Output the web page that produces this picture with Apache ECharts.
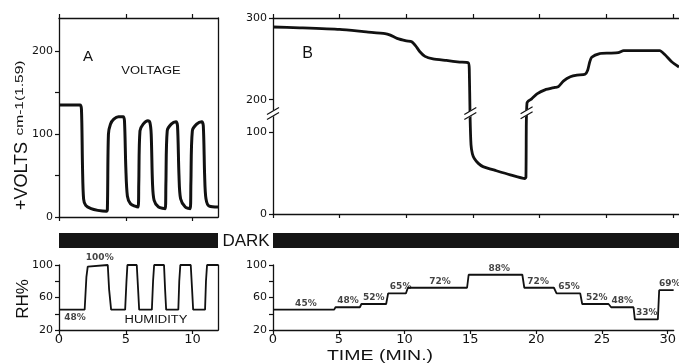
<!DOCTYPE html>
<html><head><meta charset="utf-8">
<script src="https://cdn.jsdelivr.net/npm/echarts@6/dist/echarts.min.js"></script>
<style>html,body{margin:0;padding:0;background:#fff}#c{width:679px;height:363px}</style>
</head><body><div id="c"></div>
<script>
// ---------- DATA ----------
// Panel A voltage: time (min), volts cm-1
const voltA_t = [0,1.57,1.68,1.76,1.84,2.0,2.4,2.9,3.55,3.62,3.7,3.85,4.1,4.45,4.8,4.9,5.0,5.12,5.35,5.7,5.92,5.97,6.06,6.3,6.65,6.8,6.9,7.0,7.12,7.45,7.95,8.0,8.1,8.4,8.75,8.87,8.98,9.1,9.45,9.82,9.87,9.98,10.3,10.68,10.8,10.9,11.0,11.25,11.9];
const voltA_v = [135,135,130,60,22,14,10,8,7,9,100,112,118,121,121,116,60,25,16,13,12,40,104,112,116,114,100,40,20,12,10,40,104,112,115,110,50,22,12,10,40,104,112,115,110,50,22,13,12];
// Panel A humidity (RH %)
const rhA_t = [0,1.92,2.05,2.15,2.25,3.65,3.75,3.9,4.95,5.05,5.12,5.82,5.92,6.0,6.95,7.04,7.12,7.86,7.94,8.02,8.93,9.0,9.08,9.86,9.96,10.04,10.93,11.0,11.08,11.9];
const rhA_v = [45,45,85,98,100,100,70,45,45,80,100,100,70,45,45,80,100,100,70,45,45,80,100,100,70,45,45,80,100,100];
const rhA_labT = [1.2, 3.05];
const rhA_labV = [45, 100];
const rhA_labText = ['48%', '100%'];
// Panel B voltage
const voltB_t = [0,2,5,7,8.4,8.8,9.3,10,10.4,10.7,11.0,11.4,12,13,14,14.65,14.72,14.78,14.85,14.95,15.1,15.4,15.75,16.75,17.8,18.9,18.97,19.0,19.05,19.15,19.4,19.8,20.4,21.15,21.4,21.8,22.3,22.8,23.4,23.6,23.75,23.9,24.5,25.2,25.9,26.3,27.5,29.0,29.4,29.9,30.45];
const voltB_v = [289,288,286,283,281,279,275,272,271,266,259,253,250,248,246,245,238,150,85,74,68,62,58,53,48,43.5,45,130,190,196,201,207,212,215,216,223,228,230,231,236,246,252,256.5,257,257.5,260,260,260,255,246.5,240];
// Panel B humidity
const rhB_t = [0,4.65,4.75,6.6,6.72,8.6,8.75,10.1,10.25,14.75,14.87,18.95,19.1,21.35,21.55,23.35,23.5,25.5,25.7,27.4,27.5,29.25,29.35,30.45];
const rhB_v = [45,45,48,48,52,52,65,65,72,72,88,88,72,72,65,65,52,52,48,48,33,33,69,69];
const rhB_labT = [2.5,5.7,7.65,9.7,12.7,17.2,20.15,22.5,24.6,26.55,28.4,30.15];
const rhB_labV = [45,48,52,65,72,88,72,65,52,48,33,69];
// Dark period (min)
const darkA = [0, 11.9];
const darkB = [0, 30.45];
// Ticks
const ticksA_x = [0,5,10];
const ticksB_x = [0,5,10,15,20,25,30];
const ticksA_y = [0,50,100,150,200];
const labelsA_y = [0,100,200];
const ticksB_y = [0,100,200,300];
const ticksRH = [20,40,60,80,100];
const labelsRH = [20,60,100];

// ---------- broken-axis mapping for panel B (100..200 compressed) ----------
function disp(v){ return v<=100 ? v : (v>=200 ? v-60 : 100+(v-100)*0.4); }
function undisp(d){ return d<=100 ? d : (d>=140 ? d+60 : 100+(d-100)/0.4); }

const zip = (a,b)=>a.map((x,i)=>[x,b[i]]);
const INK = '#111';
const NUMF = '"DejaVu Sans", sans-serif';
const TXTF = '"Liberation Sans", Arial, sans-serif';

const axisLine = {show:true, onZero:false, lineStyle:{color:INK, width:1.3}};
function xAx(grid, max, ticks, opts){
  return Object.assign({
    type:'value', gridIndex:grid, min:0, max:max,
    axisLine: axisLine, splitLine:{show:false},
    axisTick:{show:true, length:4, customValues:ticks, lineStyle:{color:INK,width:1.2}},
    axisLabel:{show:false, customValues:ticks}
  }, opts||{});
}
function yAx(grid, min, max, ticks, labels, opts){
  return Object.assign({
    type:'value', gridIndex:grid, min:min, max:max,
    axisLine: axisLine, splitLine:{show:false},
    axisTick:{show:true, length:4, customValues:ticks, lineStyle:{color:INK,width:1.2}},
    axisLabel:{show:true, customValues:labels, color:INK, fontSize:11, fontFamily:NUMF, margin:6}
  }, opts||{});
}
function borderY(grid, min, max){
  return {type:'value', gridIndex:grid, min:min, max:max, position:'right', axisLine:axisLine,
          axisTick:{show:false}, axisLabel:{show:false}, splitLine:{show:false}};
}

const option = {
  animation:false,
  backgroundColor:'#fff',
  grid:[
    {left:59, top:18, width:159, height:199},   // 0 A voltage
    {left:273, top:18, right:0, height:196},    // 1 B voltage
    {left:59, top:265, width:159, height:65},   // 2 A RH
    {left:273, top:265, right:0, height:65},    // 3 B RH
    {left:59, top:233, width:159, height:15},   // 4 dark A
    {left:273, top:233, right:0, height:15}     // 5 dark B
  ],
  xAxis:[
    xAx(0, 11.9, ticksA_x),
    xAx(0, 11.9, ticksA_x, {position:'top'}),
    xAx(1, 30.45, ticksB_x),
    xAx(1, 30.45, ticksB_x, {position:'top'}),
    xAx(2, 11.9, ticksA_x, {axisLabel:{show:true, customValues:ticksA_x, color:INK, fontSize:13, fontFamily:NUMF, margin:3}}),
    xAx(3, 30.45, ticksB_x, {axisLabel:{show:true, customValues:ticksB_x, color:INK, fontSize:13, fontFamily:NUMF, margin:3}}),
    {type:'value', gridIndex:4, min:0, max:11.9, show:false},
    {type:'value', gridIndex:5, min:0, max:30.45, show:false}
  ],
  yAxis:[
    yAx(0, 0, 240, ticksA_y, labelsA_y),
    borderY(0, 0, 240),
    yAx(1, 0, 240, ticksB_y.map(disp), ticksB_y.map(disp), {axisLabel:{show:true, customValues:ticksB_y.map(disp), color:INK, fontSize:11, fontFamily:NUMF, margin:6, formatter:(v)=>String(Math.round(undisp(v)))}}),
    yAx(2, 20, 100, ticksRH, labelsRH),
    borderY(2, 20, 100),
    yAx(3, 20, 100, ticksRH, labelsRH),
    {type:'value', gridIndex:4, min:0, max:1, show:false},
    {type:'value', gridIndex:5, min:0, max:1, show:false}
  ],
  series:[
    {type:'line', xAxisIndex:0, yAxisIndex:0, data:zip(voltA_t, voltA_v), symbol:'none', smooth:0.3,
     lineStyle:{color:INK, width:3}},
    {type:'line', xAxisIndex:2, yAxisIndex:2, data:zip(voltB_t, voltB_v.map(disp)), symbol:'none', smooth:0.2,
     lineStyle:{color:INK, width:2.8}},
    {type:'line', xAxisIndex:4, yAxisIndex:3, data:zip(rhA_t, rhA_v), symbol:'none',
     lineStyle:{color:INK, width:1.8}},
    {type:'line', xAxisIndex:5, yAxisIndex:5, data:zip(rhB_t, rhB_v), symbol:'none',
     lineStyle:{color:INK, width:1.8}},
    {type:'scatter', xAxisIndex:4, yAxisIndex:3, symbolSize:0, silent:true,
     data:rhA_labT.map((t,i)=>({value:[t, rhA_labV[i]], label:{position: i===0?'bottom':'top'}})),
     label:{show:true, distance:3, color:INK, fontSize:9, fontWeight:'bold', fontFamily:NUMF,
            formatter:(p)=>rhA_labText[p.dataIndex]}},
    {type:'scatter', xAxisIndex:5, yAxisIndex:5, symbolSize:0, silent:true,
     data:zip(rhB_labT, rhB_labV),
     label:{show:true, position:'top', distance:2, color:INK, fontSize:9, fontWeight:'bold', fontFamily:NUMF,
            formatter:(p)=>p.value[1]+'%'}},
    {type:'line', xAxisIndex:6, yAxisIndex:6, data:[[darkA[0],0.5]], symbol:'none', lineStyle:{opacity:0},
     markArea:{silent:true, itemStyle:{color:'#151515'}, data:[[{xAxis:darkA[0]},{xAxis:darkA[1]}]]}},
    {type:'line', xAxisIndex:7, yAxisIndex:7, data:[[darkB[0],0.5]], symbol:'none', lineStyle:{opacity:0},
     markArea:{silent:true, itemStyle:{color:'#151515'}, data:[[{xAxis:darkB[0]},{xAxis:darkB[1]}]]}}
  ]
};

const chart = echarts.init(document.getElementById('c'), null, {renderer:'canvas'});
chart.setOption(option);

// ---------- text and break decorations ----------
function txt(text, x, y, size, opts){
  return Object.assign({type:'text', x:x, y:y, silent:true, z:100,
    style:{text:text, fill:INK, font: size+'px '+TXTF, textAlign:'center', textVerticalAlign:'middle'}}, opts||{});
}
const g = [
  txt('A', 88, 57, 15),
  txt('VOLTAGE', 151, 71, 10, {scaleX:1.3}),
  txt('B', 307.5, 54, 16),
  txt('HUMIDITY', 156, 320, 10, {scaleX:1.3}),
  txt('DARK', 246, 241, 17),
  txt('TIME (MIN.)', 380, 356, 15, {scaleX:1.3}),
  txt('+VOLTS', 22, 176, 18, {rotation:Math.PI/2}),
  txt('cm-1(1.59)', 20.5, 98, 10, {rotation:Math.PI/2, scaleX:1.55}),
  txt('RH%', 23, 299, 17, {rotation:Math.PI/2})
];
// break marks on panel B axis and curve
const breaks = [[0, 123], [14.8, 123], [19.02, 124]];
breaks.forEach(function(b){
  const p = chart.convertToPixel({gridIndex:1}, b);
  g.push({type:'line', z:90, silent:true, shape:{x1:p[0]-6,y1:p[1]+4,x2:p[0]+6,y2:p[1]-4}, style:{stroke:'#fff', lineWidth:5}});
  g.push({type:'line', z:91, silent:true, shape:{x1:p[0]-6,y1:p[1]+6,x2:p[0]+6,y2:p[1]-1}, style:{stroke:INK, lineWidth:1.2}});
  g.push({type:'line', z:91, silent:true, shape:{x1:p[0]-6,y1:p[1]+1,x2:p[0]+6,y2:p[1]-6}, style:{stroke:INK, lineWidth:1.2}});
});
chart.setOption({graphic:g});
</script>
</body></html>
